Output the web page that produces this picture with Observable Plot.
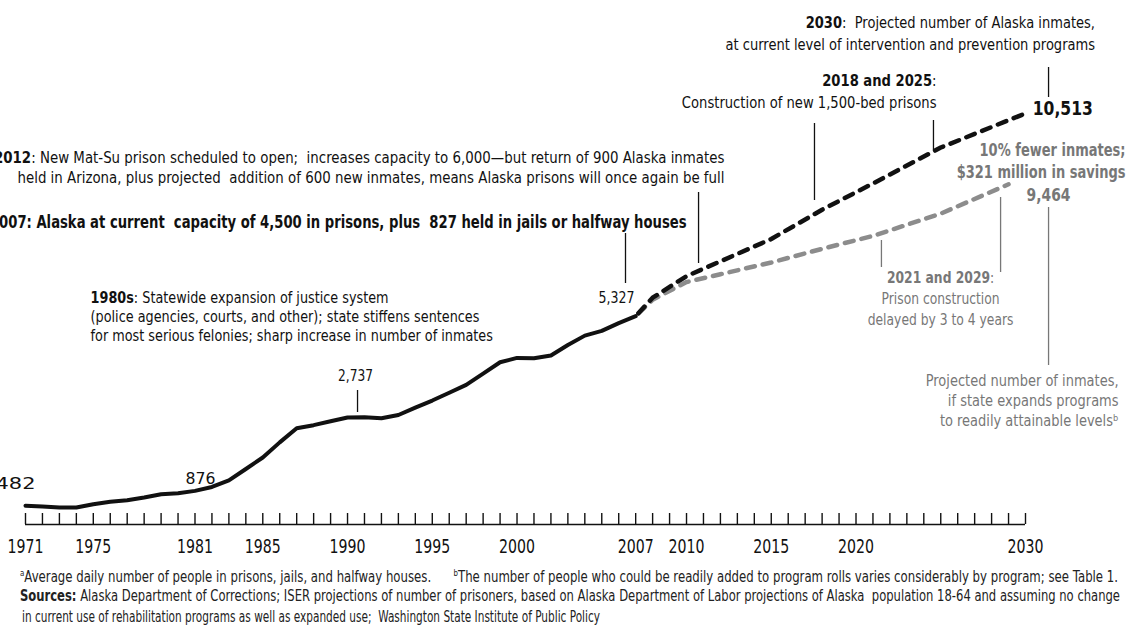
<!DOCTYPE html>
<html><head><meta charset="utf-8">
<script src="https://cdn.jsdelivr.net/npm/d3@7"></script>
<script src="https://cdn.jsdelivr.net/npm/@observablehq/plot@0.6"></script>
<style>
body{margin:0;background:#fff;font-family:"DejaVu Sans",sans-serif;overflow:hidden;}
#chart svg{display:block;}
#notes{font-size:15px;color:#222;margin-top:5px;}
#notes .ln{height:21px;line-height:21px;white-space:nowrap;}
#notes .ln span{display:inline-block;transform-origin:0 50%;}
#notes sup{font-size:9px;}
</style></head><body>
<div id="chart"></div>
<div id="notes">
<div class="ln" style="height:23px"><span data-x="20" data-w="1098"><sup>a</sup>Average daily number of people in prisons, jails, and halfway houses. &nbsp;&nbsp;&nbsp;&nbsp; <sup>b</sup>The number of people who could be readily added to program rolls varies considerably by program; see Table 1.</span></div>
<div class="ln"><span data-x="20" data-w="1100"><b>Sources:</b> Alaska Department of Corrections; ISER projections of number of prisoners, based on Alaska Department of Labor projections of Alaska &nbsp;population 18-64 and assuming no change</span></div>
<div class="ln"><span data-x="22" data-w="578">in current use of rehabilitation programs as well as expanded use; &nbsp;Washington State Institute of Public Policy</span></div>
</div>
<script>
// Historical inmates (average daily number)
const histYears = [1971,1972,1973,1974,1975,1976,1977,1978,1979,1980,1981,1982,1983,1984,1985,1986,1987,1988,1989,1990,1991,1992,1993,1994,1995,1996,1997,1998,1999,2000,2001,2002,2003,2004,2005,2006,2007];
const histValues = [482,460,435,435,520,580,620,690,775,800,860,960,1130,1420,1713,2100,2460,2540,2640,2737,2745,2715,2800,2990,3170,3370,3570,3860,4150,4260,4250,4320,4590,4830,4950,5150,5327];
// Projections
const projYears = [2007,2008,2010,2012,2015,2018,2021,2025,2030];
const currentProj = [5327,5800,6350,6730,7300,8050,8720,9640,10513];
const expandedYears = [2007,2008,2010,2012,2015,2018,2021,2025,2029];
const expandedProj = [5327,5750,6200,6400,6700,7050,7380,7950,8700];
// Axis
const axisStart = 1971, axisEnd = 2030;
const tickLabels = [1971,1975,1981,1985,1990,1995,2000,2007,2010,2015,2020,2030];

const hist = histYears.map((y,i)=>({year:y, value:histValues[i]}));
const cur = projYears.map((y,i)=>({year:y, value:currentProj[i]}));
const exp = expandedYears.map((y,i)=>({year:y, value:expandedProj[i]}));
const axisYears = d3.range(axisStart, axisEnd + 1);

const BLACK = "#111", GRAY = "#777", GRAYLINE = "#8c8c8c";

const leaders = [
  {x:2031.36, y1:11687, y2:10920, c:BLACK},
  {x:2017.55, y1:10255, y2:8286, c:BLACK},
  {x:2024.57, y1:10332, y2:9564, c:BLACK},
  {x:2010.71, y1:8490, y2:6675, c:BLACK},
  {x:2006.4, y1:7442, y2:6163, c:BLACK},
  {x:1990.59, y1:3427, y2:2864, c:BLACK},
  {x:2021.5, y1:7263, y2:6572, c:GRAY},
  {x:2028.53, y1:8362, y2:6444, c:GRAY},
  {x:2031.36, y1:8107, y2:4066, c:GRAY}
];

const notes = [
  {x:2034.1, y:13093, tw:370, text:"**2030**:  Projected number of Alaska inmates,\nat current level of intervention and prevention programs", anchor:"end", la:"top", size:16.5, lh:1.33, color:BLACK, w:"normal"},
  {x:2032.2, y:10638, tw:60, text:"10,513", anchor:"middle", la:"middle", size:20, lh:1, color:BLACK, w:"bold"},
  {x:2024.75, y:11605, tw:255, text:"**2018 and 2025**:\nConstruction of new 1,500-bed prisons", anchor:"end", la:"top", size:16, lh:1.375, color:BLACK, w:"normal"},
  {x:2035.9, y:9794, tw:169, text:"10% fewer inmates;\n$321 million in savings", anchor:"end", la:"top", size:17, lh:1.24, color:GRAY, w:"bold"},
  {x:2031.36, y:8414, tw:44, text:"9,464", anchor:"middle", la:"middle", size:18, lh:1, color:GRAY, w:"bold"},
  {x:2012.24, y:9606, tw:731, text:"**2012**: New Mat-Su prison scheduled to open;  increases capacity to 6,000\u2014but return of 900 Alaska inmates\nheld in Arizona, plus projected  addition of 600 new inmates, means Alaska prisons will once again be full", anchor:"end", la:"top", size:15.5, lh:1.29, color:BLACK, w:"normal"},
  {x:2010.0, y:7723, tw:697, text:"2007: Alaska at current  capacity of 4,500 in prisons, plus  827 held in jails or halfway houses", anchor:"end", la:"middle", size:17, lh:1, color:BLACK, w:"bold"},
  {x:1974.84, y:6020, tw:403, text:"**1980s**: Statewide expansion of justice system\n(police agencies, courts, and other); state stiffens sentences\nfor most serious felonies; sharp increase in number of inmates", anchor:"start", la:"top", size:15, lh:1.27, color:BLACK, w:"normal"},
  {x:2005.87, y:5805, tw:36, text:"5,327", anchor:"middle", la:"middle", size:16, lh:1, color:BLACK, w:"normal"},
  {x:1990.47, y:3811, tw:35, text:"2,737", anchor:"middle", la:"middle", size:16, lh:1, color:BLACK, w:"normal"},
  {x:1981.33, y:1176, tw:30, text:"876", anchor:"middle", la:"middle", size:16, lh:1, color:BLACK, w:"normal"},
  {x:1971.59, y:1048, tw:40, text:"482", anchor:"end", la:"middle", size:16, lh:1, color:BLACK, w:"normal"},
  {x:2024.99, y:6542, tw:146, text:"**2021 and 2029**:\nPrison construction\ndelayed by 3 to 4 years", anchor:"middle", la:"top", size:16, lh:1.3, color:GRAY, w:"normal"},
  {x:2035.49, y:3903, tw:193, text:"Projected number of inmates,\nif state expands programs\nto readily attainable levels\u1D47", anchor:"end", la:"top", size:15.5, lh:1.29, color:GRAY, w:"normal"}
];

const marks = [
  Plot.ruleY([0], {x1: () => axisStart, x2: () => axisEnd, y: d => d, stroke: BLACK, strokeWidth: 1.6}),
  Plot.ruleX(axisYears, {x: d => d, y1: () => 0, y2: () => 0, insetTop: -11, stroke: BLACK, strokeWidth: 1.4}),
  Plot.text(tickLabels, {x: d => d, y: () => 0, dy: 22, text: d => String(d), fontSize: 19, fill: BLACK}),
  Plot.ruleX(leaders, {x: "x", y1: "y1", y2: "y2", stroke: "c", strokeWidth: 1.3}),
  Plot.line(exp, {x: "year", y: "value", stroke: GRAYLINE, strokeWidth: 4.5, strokeDasharray: "9,8", strokeDashoffset: -4}),
  Plot.line(cur, {x: "year", y: "value", stroke: BLACK, strokeWidth: 4.5, strokeDasharray: "9,8", strokeDashoffset: -4}),
  Plot.line(hist, {x: "year", y: "value", stroke: BLACK, strokeWidth: 4, strokeLinejoin: "round", strokeLinecap: "round"}),
  ...notes.map(n => Plot.text([n], {x: "x", y: "y", text: "text", textAnchor: n.anchor, lineAnchor: n.la, fontSize: n.size, lineHeight: n.lh, fill: n.color, fontWeight: n.w}))
];

const chart = Plot.plot({
  width: 1132,
  height: 558,
  marginLeft: 25,
  marginRight: 107,
  marginTop: 0,
  marginBottom: 34,
  x: {domain: [axisStart, axisEnd], axis: null},
  y: {domain: [0, 13400], axis: null},
  style: {fontFamily: '"DejaVu Sans",sans-serif', background: "#fff", overflow: "visible"},
  marks
});

// bold segments marked with **
const walker = document.createTreeWalker(chart, NodeFilter.SHOW_TEXT);
const nodes = [];
while (walker.nextNode()) if (walker.currentNode.nodeValue.includes("**")) nodes.push(walker.currentNode);
for (const n of nodes) {
  const parts = n.nodeValue.split("**");
  const frag = document.createDocumentFragment();
  parts.forEach((p, i) => {
    if (!p) return;
    if (i % 2) {
      const t = document.createElementNS("http://www.w3.org/2000/svg", "tspan");
      t.setAttribute("font-weight", "bold");
      t.textContent = p;
      frag.appendChild(t);
    } else frag.appendChild(document.createTextNode(p));
  });
  n.parentNode.replaceChild(frag, n);
}
document.getElementById("chart").appendChild(chart);

// condense texts horizontally to mimic the condensed typeface of the original
function condense(el, target, anchor) {
  const b = el.getBBox();
  if (!b.width) return;
  const f = target / b.width;
  const ax = anchor === "end" ? b.x + b.width : anchor === "middle" ? b.x + b.width / 2 : b.x;
  const t = el.getAttribute("transform") || "";
  el.setAttribute("transform", `${t} translate(${ax},0) scale(${f},1) translate(${-ax},0)`);
}
const textGroups = chart.querySelectorAll('g[aria-label="text"]');
textGroups[0].querySelectorAll("text").forEach(el => condense(el, 36, "middle"));
notes.forEach((n, i) => {
  const g = textGroups[i + 1];
  if (g) g.querySelectorAll("text").forEach(el => condense(el, n.tw, n.anchor));
});
document.querySelectorAll("#notes span").forEach(s => {
  const w = s.getBoundingClientRect().width;
  const f = +s.dataset.w / w;
  s.style.transform = `translateX(${s.dataset.x}px) scaleX(${f})`;
});
</script>
</body></html>
